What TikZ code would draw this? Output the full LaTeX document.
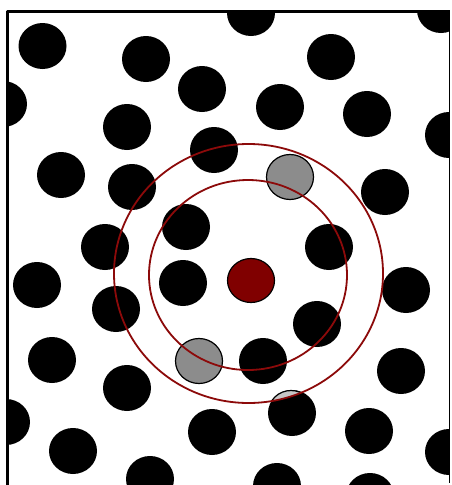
\documentclass[tikz,border=0pt]{standalone}
\usepackage{tikz}
\definecolor{ringred}{RGB}{140,10,10}
\definecolor{centrered}{RGB}{128,0,0}
\definecolor{neighgrey}{RGB}{140,140,140}
\tikzset{
  grain/.style={fill=black},
  neighbour/.style={fill=neighgrey,draw=black,line width=1.2pt},
  centre/.style={fill=centrered,draw=black,line width=1.2pt},
  shell/.style={draw=ringred,line width=1.8pt}
}
\begin{document}
\begin{tikzpicture}[x=1pt,y=-1pt,line join=round,line cap=round]
			\useasboundingbox (0,0) rectangle (451,485);
			\fill[white] (0,0) rectangle (451,485);
			\begin{scope}
				\clip (9,13) rectangle (449,485);
				% black grains
				\foreach \x/\y in {42.5/46,146/59,251/13,441/10,331/57,202/89,3/104,280/107,367/114,127/127,449/135,214/150,61/175,132/187,385/192,186/227,105/247,329/247,37/285,183/283,406/290,116/309,317/324,52/360,263/361,127/388,401/371,6/422,292/413,212/432,369/431,73/451,449/452,150/479,277/486,370/496}
				\fill[grain] (\x,\y) ellipse [x radius=24,y radius=23];
				% part of the lower grain inside the outer shell
				\begin{scope}
					\clip (248.5,273.5) ellipse [x radius=134.5,y radius=129.5];
					\filldraw[fill=gray!45,draw=black,line width=1.2pt] (291,412) ellipse [x radius=22.5,y radius=21.5];
				\end{scope}
				% neighbours and centre
				\foreach \x/\y in {290/177,199/361}
				\filldraw[neighbour] (\x,\y) ellipse [x radius=23.5,y radius=22.5];
				\filldraw[centre] (251,280.5) ellipse [x radius=23.5,y radius=22];
				% shells
				\draw[shell] (248,275) ellipse [x radius=99,y radius=95];
				\draw[shell] (248.5,273.5) ellipse [x radius=134.5,y radius=129.5];
			\end{scope}
			% frame
			\draw[line width=3pt,line cap=butt] (7.5,485)--(7.5,11.5)--(450,11.5);
			\draw[line width=1pt,line cap=butt] (449.5,11.5)--(449.5,483);
		\end{tikzpicture}
\end{document}
